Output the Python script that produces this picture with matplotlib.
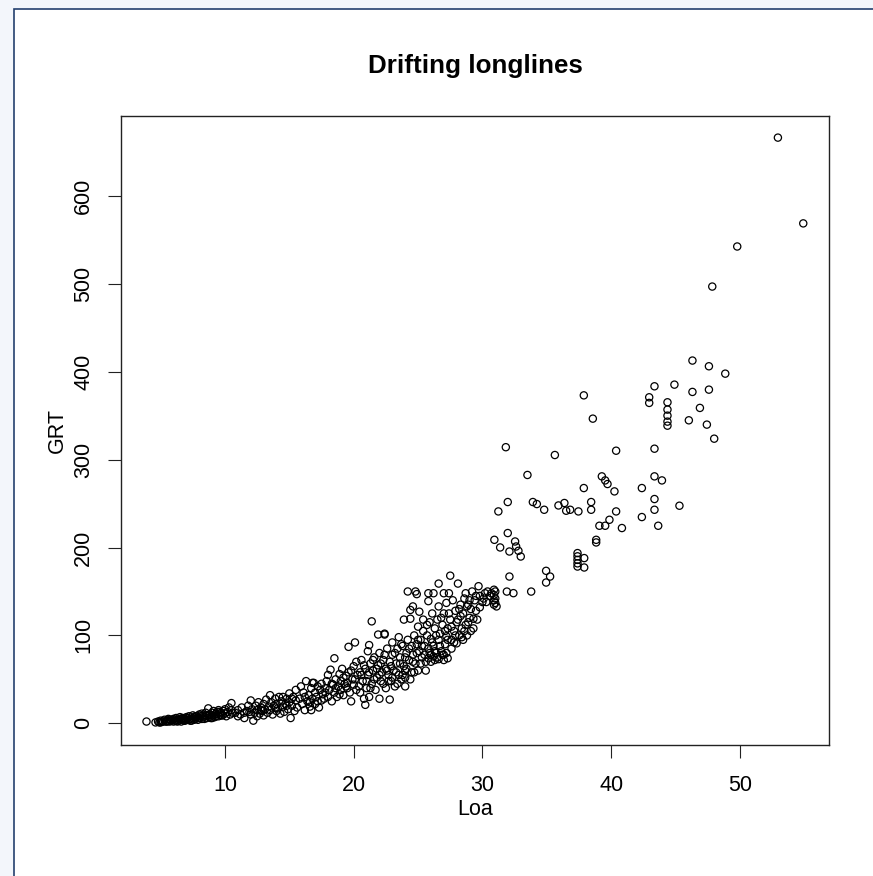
import matplotlib
matplotlib.use("Agg")
import matplotlib.pyplot as plt
from matplotlib.patches import Rectangle
import numpy as np

plt.rcParams['font.family'] = ['Liberation Sans', 'DejaVu Sans']

# sparse upper part
loa_big = [52.96, 54.93, 49.80, 47.86, 46.32, 47.60, 48.87, 43.37, 44.92, 46.32,
           47.60, 37.88, 42.96, 42.96, 44.38, 44.38, 44.38, 44.38, 44.38, 46.90,
           38.58, 46.04, 47.44, 48.01, 31.82, 40.39, 43.37, 35.63, 33.50, 39.28,
           39.54, 39.72, 40.26, 43.37, 43.95, 37.88, 42.39, 31.97, 31.24, 33.92,
           34.23, 34.80, 35.91, 36.37, 36.51, 36.82, 37.46, 38.45, 38.45, 40.39,
           43.37, 43.37, 45.31, 42.39, 39.87, 39.54, 39.09, 40.84, 43.66, 31.97,
           30.93, 31.38, 32.10, 32.54, 32.62, 32.80, 32.98, 38.84, 38.84, 37.39,
           37.39, 37.39, 37.39, 37.39, 37.91, 37.91, 32.10, 34.95, 35.26, 34.95,
           33.79, 31.90, 32.41]
grt_big = [666.5, 568.9, 542.6, 497.0, 412.8, 406.3, 397.9, 383.5, 385.4, 377.1,
           379.7, 373.2, 371.0, 364.6, 365.3, 357.0, 350.1, 343.3, 338.7, 358.9,
           346.7, 344.8, 339.9, 323.9, 314.2, 310.2, 312.5, 305.3, 282.6, 281.0,
           276.4, 272.3, 263.9, 281.0, 276.4, 267.7, 267.7, 251.8, 241.1, 251.8,
           249.5, 243.0, 247.9, 250.7, 241.9, 243.0, 241.1, 251.8, 243.0, 241.1,
           255.2, 243.0, 247.6, 234.7, 231.6, 224.8, 224.8, 222.2, 224.8, 216.5,
           208.8, 200.1, 195.5, 206.9, 201.2, 196.3, 189.8, 208.8, 205.8, 193.7,
           190.0, 186.0, 182.0, 178.4, 188.0, 177.3, 167.0, 173.5, 167.0, 160.2,
           149.9, 149.9, 148.1]

# small boats, 4-11 m
loa_small = [3.9, 4.6, 4.8, 4.9, 5.0, 5.0, 5.1, 5.2, 5.3, 5.4, 5.5, 5.5, 5.6, 5.7,
             5.7, 5.8, 5.9, 6.0, 6.0, 6.1, 6.2, 6.2, 6.3, 6.3, 6.4, 6.5, 6.5, 6.6,
             6.6, 6.7, 6.8, 6.8, 6.9, 6.9, 7.0, 7.0, 7.1, 7.2, 7.2, 7.3, 7.3, 7.4,
             7.5, 7.5, 7.6, 7.6, 7.7, 7.7, 7.8, 7.9, 7.9, 8.0, 8.0, 8.1, 8.2, 8.2,
             8.3, 8.3, 8.4, 8.5, 8.5, 8.6, 8.6, 8.7, 8.8, 8.8, 8.9, 9.0, 9.0, 9.0,
             9.1, 9.2, 9.2, 9.3, 9.3, 9.4, 9.5, 9.5, 9.6, 9.6, 9.7, 9.7, 9.8, 9.9,
             10.0, 10.0, 10.1, 10.2, 10.3, 10.4, 10.5, 10.5, 10.6]
grt_small = [2, 1, 2, 1, 1, 3, 2, 2, 4, 2, 2, 3, 5, 2,
             4, 3, 4, 2, 5, 3, 6, 3, 4, 2, 3, 5, 7, 4,
             2, 6, 3, 5, 5, 3, 7, 4, 6, 8, 4, 5, 3, 3,
             6, 9, 7, 4, 5, 8, 8, 4, 6, 10, 6, 8, 11, 5,
             7, 9, 5, 9, 12, 8, 6, 17, 10, 7, 6, 12, 9, 6,
             14, 7, 10, 11, 8, 13, 8, 15, 10, 13, 12, 9, 9, 14,
             11, 16, 8, 13, 18, 10, 23, 15, 12]

# 11-20 m
loa_mid = [10.8, 11.0, 11.0, 11.2, 11.3, 11.5, 11.5, 11.7, 11.8, 12.0, 12.0, 12.1,
           12.2, 12.3, 12.4, 12.5, 12.5, 12.6, 12.7, 12.8, 12.9, 13.0, 13.0, 13.1,
           13.2, 13.3, 13.4, 13.5, 13.5, 13.6, 13.7, 13.8, 13.9, 14.0, 14.0, 14.1,
           14.2, 14.3, 14.4, 14.5, 14.5, 14.6, 14.7, 14.8, 14.9, 15.0, 15.0, 15.1,
           15.2, 15.3, 15.4, 15.5, 15.5, 15.6, 15.8, 15.9, 16.0, 16.1, 16.2, 16.3,
           16.4, 16.5, 16.6, 16.7, 16.7, 16.8, 16.8, 16.9, 17.0, 17.0, 17.1, 17.2,
           17.3, 17.4, 17.5, 17.5, 17.6, 17.7, 17.8, 17.9, 18.0, 18.0, 18.1, 18.2,
           18.3, 18.4, 18.5, 18.5, 18.6, 18.7, 18.8, 18.9, 19.0, 19.0, 19.1, 19.2,
           19.3, 19.4, 19.5, 19.6, 19.6, 19.7, 19.8, 19.9, 20.0, 20.0, 20.1, 20.2,
           20.3, 17.2, 17.8, 18.3, 18.6, 18.9, 19.4, 16.2, 16.6, 15.2, 14.8, 13.9,
           12.8, 11.9]
grt_mid = [12, 8, 15, 10, 18, 12, 6, 14, 20, 26, 10, 16,
           3, 12, 20, 8, 15, 24, 11, 18, 14, 22, 9, 16,
           27, 12, 19, 32, 15, 24, 10, 20, 28, 14, 22, 17,
           30, 11, 25, 30, 19, 13, 22, 28, 16, 24, 34, 6,
           20, 30, 14, 26, 38, 18, 28, 42, 22, 35, 15, 48,
           25, 32, 19, 40, 15, 28, 46, 46, 22, 35, 30, 42,
           18, 38, 26, 45, 33, 28, 40, 48, 30, 55, 38, 61,
           25, 44, 74, 35, 50, 30, 42, 56, 38, 48, 62, 32,
           45, 54, 40, 87, 58, 35, 25, 50, 44, 65, 92, 38,
           55, 25, 35, 45, 40, 33, 42, 30, 24, 28, 20, 18,
           15, 13]

# 20-31 m
loa_large = [20.5, 20.5, 20.6, 20.7, 20.8, 20.9, 20.9, 21.0, 21.1, 21.1, 21.2, 21.2,
             21.3, 21.4, 21.4, 21.5, 21.6, 21.7, 21.8, 21.9, 21.9, 22.0, 22.0, 22.1,
             22.2, 22.3, 22.4, 22.4, 22.5, 22.5, 22.6, 22.7, 22.8, 22.8, 22.9, 23.0,
             23.0, 23.1, 23.2, 23.3, 23.4, 23.5, 23.5, 23.6, 23.7, 23.8, 23.9, 23.9,
             24.0, 24.0, 24.0, 24.1, 24.2, 24.2, 24.3, 24.4, 24.4, 24.5, 24.5, 24.6,
             24.6, 24.7, 24.8, 24.8, 24.9, 24.9, 25.0, 25.0, 25.1, 25.1, 25.2, 25.3,
             25.4, 25.4, 25.5, 25.6, 25.7, 25.8, 25.8, 25.8, 25.9, 26.0, 26.0, 26.1,
             26.2, 26.2, 26.3, 26.3, 26.4, 26.5, 26.6, 26.6, 26.6, 26.7, 26.8, 26.9,
             27.0, 27.0, 27.0, 27.1, 27.2, 27.2, 27.3, 27.4, 27.5, 27.5, 27.6, 27.6,
             27.7, 27.8, 27.9, 28.0, 28.0, 28.1, 28.2, 28.3, 28.3, 28.4, 28.5, 28.6,
             28.7, 28.7, 28.8, 28.8, 28.9, 29.0, 29.0, 29.1, 29.2, 29.3, 29.4, 29.5,
             29.6, 29.7, 29.8, 30.0, 30.2, 30.4, 30.6, 30.9, 30.9, 30.9, 30.9, 31.0,
             31.0, 31.0, 31.1]
grt_large = [35, 58, 72, 48, 28, 21, 62, 40, 82, 55, 89, 30,
             68, 116, 45, 60, 75, 38, 52, 101, 66, 28, 80, 48,
             58, 72, 101, 102, 40, 62, 85, 55, 27, 70, 48, 78,
             92, 60, 42, 68, 85, 55, 98, 75, 50, 88, 118, 65,
             60, 52, 42, 80, 150, 95, 72, 129, 119, 58, 88, 133,
             78, 100, 150, 68, 147, 90, 60, 110, 127, 82, 95, 75,
             118, 105, 88, 70, 100, 148, 139, 85, 115, 78, 96, 125,
             148, 88, 72, 108, 80, 118, 159, 133, 95, 102, 82, 112,
             148, 72, 125, 90, 137, 99, 108, 148, 168, 118, 95, 85,
             140, 105, 128, 91, 115, 159, 100, 135, 122, 108, 95, 142,
             148, 112, 133, 100, 135, 140, 120, 105, 150, 119, 140, 128,
             118, 156, 145, 138, 148, 150, 145, 152, 146, 140, 135, 150,
             142, 137, 133]

# extra points filling the dense 19-31 m band
loa_fill = [19.2, 19.5, 19.8, 20.1, 20.2, 20.4, 20.6, 20.8, 21.0, 21.2, 21.3, 21.5,
            21.6, 21.8, 22.0, 22.1, 22.3, 22.4, 22.6, 22.7, 22.9, 23.0, 23.2, 23.3,
            23.4, 23.6, 23.7, 23.8, 24.0, 24.1, 24.3, 24.4, 24.6, 24.7, 24.9, 25.0,
            25.2, 25.3, 25.5, 25.6, 25.7, 25.9, 26.0, 26.1, 26.3, 26.4, 26.5, 26.7,
            26.8, 26.9, 27.1, 27.2, 27.3, 27.4, 27.6, 27.8, 27.9, 28.1, 28.2, 28.4,
            28.5, 28.6, 28.9, 29.1, 29.3, 29.5, 29.8, 30.1, 30.3, 30.7, 25.8, 26.2,
            26.6, 27.0, 27.3]
grt_fill = [52, 46, 60, 50, 70, 42, 55, 66, 48, 58, 40, 72,
            50, 62, 55, 68, 45, 78, 60, 48, 65, 52, 80, 58,
            45, 68, 90, 55, 75, 62, 85, 50, 70, 58, 80, 95,
            68, 88, 78, 60, 112, 80, 70, 92, 82, 100, 75, 88,
            120, 78, 105, 80, 95, 125, 110, 92, 100, 118, 130, 98,
            125, 105, 115, 130, 108, 145, 132, 142, 138, 148, 74, 76,
            73, 78, 74]

loa = np.array(loa_small + loa_mid + loa_large + loa_fill + loa_big)
grt = np.array(grt_small + grt_mid + grt_large + grt_fill + grt_big)

fig = plt.figure(figsize=(8.73, 8.76), dpi=100, facecolor='#f3f6fb')
fig.patches.append(Rectangle((13.5 / 873, -0.01), 1.0, 1.01 - 8.5 / 876,
                             transform=fig.transFigure, facecolor='white',
                             edgecolor='#24406e', lw=1.2, zorder=-10))

ax = fig.add_axes([121 / 873, 131 / 876, 708 / 873, 629 / 876])
ax.scatter(loa, grt, s=27, facecolors='none', edgecolors='black', linewidths=0.9)

ax.set_xlim(1.92, 56.93)
ax.set_ylim(-24.7, 691.1)
ax.set_xticks([10, 20, 30, 40, 50])
ax.set_yticks([0, 100, 200, 300, 400, 500, 600])
ax.tick_params(axis='both', direction='out', length=9.4, width=0.8,
               labelsize=15.5, color='#222222')
ax.tick_params(axis='x', pad=12)
ax.tick_params(axis='y', pad=10)
for lab in ax.get_yticklabels():
    lab.set_rotation(90)
    lab.set_va('center')
for sp in ax.spines.values():
    sp.set_linewidth(1.0)
    sp.set_color('#222222')

ax.set_title("Drifting longlines", fontsize=18.7, fontweight='bold', pad=31)
ax.set_xlabel("Loa", fontsize=15.5)
ax.set_ylabel("GRT", fontsize=15.5)
ax.xaxis.set_label_coords(0.5, -0.086)
ax.yaxis.set_label_coords(-0.0756, 0.5)

fig.savefig("out.png", dpi=100, facecolor=fig.get_facecolor())
